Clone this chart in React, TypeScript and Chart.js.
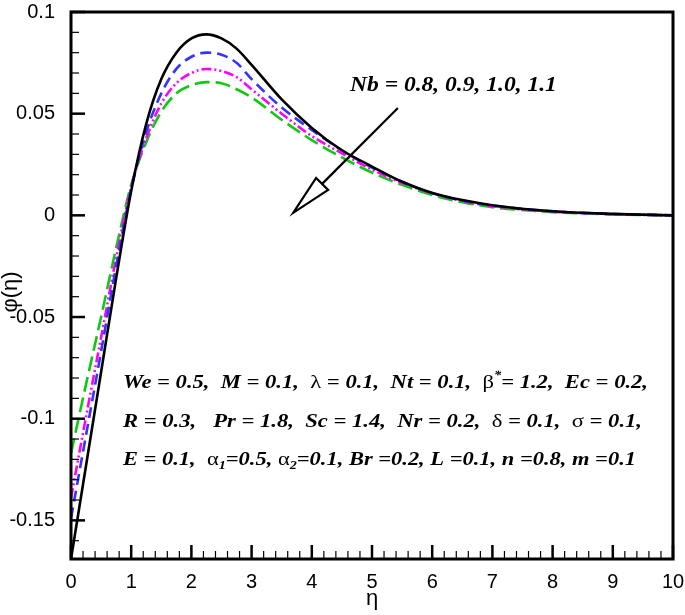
import React, { useEffect, useRef } from "react";
import { Chart, registerables } from "chart.js";

Chart.register(...registerables);

// ---- data ----
const eta = [0, 0.25, 0.5, 0.75, 1, 1.25, 1.5, 1.75, 2, 2.25, 2.5, 2.75, 3, 3.5, 4, 4.5, 5, 5.5, 6, 6.5, 7, 8, 9, 10];
const phiNb08 = [-0.169, -0.123, -0.077, -0.031, 0.012, 0.045, 0.067, 0.08, 0.087, 0.089, 0.087, 0.082, 0.074, 0.057, 0.043, 0.032, 0.024, 0.0165, 0.011, 0.0075, 0.005, 0.002, 0.0007, 0];
const phiNb09 = [-0.149, -0.108, -0.067, -0.025, 0.013, 0.041, 0.06, 0.072, 0.078, 0.08, 0.079, 0.075, 0.067, 0.053, 0.042, 0.032, 0.0235, 0.0165, 0.011, 0.0073, 0.0048, 0.002, 0.0007, 0];
const phiNb10 = [-0.139, -0.099, -0.06, -0.021, 0.014, 0.038, 0.055, 0.065, 0.07, 0.072, 0.071, 0.068, 0.062, 0.05, 0.039, 0.0305, 0.0225, 0.016, 0.0108, 0.007, 0.0045, 0.0018, 0.0006, 0];
const phiNb11 = [-0.117, -0.083, -0.05, -0.016, 0.015, 0.036, 0.051, 0.06, 0.064, 0.0655, 0.065, 0.062, 0.058, 0.047, 0.037, 0.0285, 0.021, 0.015, 0.01, 0.0065, 0.004, 0.0016, 0.0005, 0];
const seriesLabels = ["Nb = 0.8", "Nb = 0.9", "Nb = 1.0", "Nb = 1.1"];
const xTickValues = [0, 1, 2, 3, 4, 5, 6, 7, 8, 9, 10];
const yTickValues = [-0.15, -0.1, -0.05, 0, 0.05, 0.1];
const xRange = [0, 10];
const yRange = [-0.169, 0.1];

const SANS = '"Liberation Sans", Arial, Helvetica, sans-serif';
const SERIF = '"Liberation Serif", "Times New Roman", serif';

type Run = { t: string; s?: "bi" | "g" | "sub" | "sup" };

const paramLines: { runs: Run[]; eta: number; phi: number; endEta: number }[] = [
  {
    eta: 0.864, phi: -0.0824, endEta: 9.585,
    runs: [
      { t: "We = 0.5,  M = 0.1,  " }, { t: "λ", s: "g" }, { t: " = 0.1,  Nt = 0.1,  " },
      { t: "β", s: "g" }, { t: "*", s: "sup" }, { t: "= 1.2,  Ec = 0.2," },
    ],
  },
  {
    eta: 0.864, phi: -0.1016, endEta: 9.485,
    runs: [
      { t: "R = 0.3,   Pr = 1.8,  Sc = 1.4,  Nr = 0.2,  " }, { t: "δ", s: "g" }, { t: " = 0.1,  " },
      { t: "σ", s: "g" }, { t: " = 0.1," },
    ],
  },
  {
    eta: 0.864, phi: -0.1203, endEta: 9.385,
    runs: [
      { t: "E = 0.1,  " }, { t: "α", s: "g" }, { t: "1", s: "sub" }, { t: "=0.5, " },
      { t: "α", s: "g" }, { t: "2", s: "sub" }, { t: "=0.1, Br =0.2, L =0.1, n =0.8, m =0.1" },
    ],
  },
];

function fontFor(s: Run["s"], size: number) {
  if (s === "g") return `${size}px ${SERIF}`;
  if (s === "sub" || s === "sup") return `italic bold ${Math.round(size * 0.62)}px ${SERIF}`;
  return `italic bold ${size}px ${SERIF}`;
}

function drawRuns(ctx: CanvasRenderingContext2D, runs: Run[], x: number, y: number, size: number, width?: number) {
  ctx.save();
  ctx.textBaseline = "middle";
  ctx.textAlign = "left";
  ctx.fillStyle = "#000";
  let total = 0;
  const ws = runs.map((r) => {
    ctx.font = fontFor(r.s, size);
    const w = ctx.measureText(r.t).width;
    total += w;
    return w;
  });
  const sx = width ? width / total : 1;
  ctx.translate(x, y);
  ctx.scale(sx, 1);
  let cx = 0;
  runs.forEach((r, i) => {
    ctx.font = fontFor(r.s, size);
    let dy = 0;
    if (r.s === "sub") dy = size * 0.3;
    if (r.s === "sup") dy = -size * 0.35;
    ctx.fillText(r.t, cx, dy);
    cx += ws[i];
  });
  ctx.restore();
}

const decorPlugin = {
  id: "decor",
  afterDraw(chart: any) {
    const { ctx, chartArea: a, scales } = chart;
    const x = scales.x;
    const y = scales.y;
    ctx.save();
    ctx.strokeStyle = "#000";
    ctx.lineCap = "butt";
    // minor ticks
    ctx.lineWidth = 1.2;
    for (let i = 1; i < 50; i++) {
      if (i % 5 === 0) continue;
      const px = x.getPixelForValue(i * 0.2);
      ctx.beginPath();
      ctx.moveTo(px, a.bottom);
      ctx.lineTo(px, a.bottom - 8);
      ctx.stroke();
    }
    for (let k = -16; k <= 9; k++) {
      if (k % 5 === 0) continue;
      const py = y.getPixelForValue(k * 0.01);
      ctx.beginPath();
      ctx.moveTo(a.left, py);
      ctx.lineTo(a.left + 8, py);
      ctx.stroke();
    }
    // major ticks
    ctx.lineWidth = 2.5;
    xTickValues.forEach((v) => {
      const px = x.getPixelForValue(v);
      ctx.beginPath();
      ctx.moveTo(px, a.bottom);
      ctx.lineTo(px, a.bottom - 14);
      ctx.stroke();
    });
    yTickValues.forEach((v) => {
      const py = y.getPixelForValue(v);
      ctx.beginPath();
      ctx.moveTo(a.left, py);
      ctx.lineTo(a.left + 14, py);
      ctx.stroke();
    });
    // frame
    ctx.lineWidth = 3;
    ctx.strokeRect(a.left, a.top, a.right - a.left, a.bottom - a.top);

    // axis titles
    ctx.fillStyle = "#000";
    ctx.font = `22px ${SANS}`;
    ctx.textAlign = "center";
    ctx.textBaseline = "middle";
    ctx.fillText("η", (a.left + a.right) / 2, 599);
    ctx.save();
    ctx.translate(11, 292);
    ctx.rotate(-Math.PI / 2);
    ctx.fillText("φ(η)", 0, 0);
    ctx.restore();

    // Nb annotation
    drawRuns(ctx, [{ t: "Nb = 0.8, 0.9, 1.0, 1.1" }], x.getPixelForValue(4.635), y.getPixelForValue(0.064), 21,
      x.getPixelForValue(8.07) - x.getPixelForValue(4.635));

    // arrow
    const sx = x.getPixelForValue(5.43), sy = y.getPixelForValue(0.0528);
    const tx = x.getPixelForValue(3.69), ty = y.getPixelForValue(0.0012);
    const ang = Math.atan2(ty - sy, tx - sx);
    const headLen = 41, headHalf = 8.5;
    const bx = tx - headLen * Math.cos(ang), by = ty - headLen * Math.sin(ang);
    ctx.lineWidth = 2.2;
    ctx.beginPath();
    ctx.moveTo(sx, sy);
    ctx.lineTo(bx, by);
    ctx.stroke();
    ctx.beginPath();
    ctx.moveTo(tx, ty);
    ctx.lineTo(bx + headHalf * Math.sin(ang), by - headHalf * Math.cos(ang));
    ctx.lineTo(bx - headHalf * Math.sin(ang), by + headHalf * Math.cos(ang));
    ctx.closePath();
    ctx.fillStyle = "#fff";
    ctx.fill();
    ctx.stroke();

    // parameter block
    paramLines.forEach((ln) => {
      const lx = x.getPixelForValue(ln.eta);
      drawRuns(ctx, ln.runs, lx, y.getPixelForValue(ln.phi), 19, x.getPixelForValue(ln.endEta) - lx);
    });
    ctx.restore();
  },
};

export default function App() {
  const ref = useRef<HTMLCanvasElement | null>(null);
  useEffect(() => {
    if (!ref.current) return;
    const mk = (arr: number[]) => eta.map((e, i) => ({ x: e, y: arr[i] }));
    const chart = new Chart(ref.current, {
      type: "line",
      data: {
        datasets: [
          { label: seriesLabels[0], data: mk(phiNb08), borderColor: "#000000", borderWidth: 2.6, borderDash: [] },
          { label: seriesLabels[1], data: mk(phiNb09), borderColor: "#3434ff", borderWidth: 2.6, borderDash: [11, 6] },
          { label: seriesLabels[2], data: mk(phiNb10), borderColor: "#ff00ff", borderWidth: 2.6, borderDash: [10, 3, 2, 3, 2, 3] },
          { label: seriesLabels[3], data: mk(phiNb11), borderColor: "#11c811", borderWidth: 2.6, borderDash: [15, 6] },
        ].map((d) => ({ ...d, pointRadius: 0, fill: false, cubicInterpolationMode: "monotone" as const })),
      },
      options: {
        animation: false,
        responsive: false,
        maintainAspectRatio: false,
        layout: { padding: { top: 12, right: 12, left: 0, bottom: 0 } },
        plugins: { legend: { display: false }, tooltip: { enabled: false } },
        scales: {
          x: {
            type: "linear",
            min: xRange[0],
            max: xRange[1],
            afterBuildTicks: (s: any) => { s.ticks = xTickValues.map((v) => ({ value: v })); },
            afterFit: (s: any) => { s.height = 56; s.paddingLeft = 0; s.paddingRight = 0; },
            grid: { display: false },
            border: { display: false },
            ticks: { color: "#000", font: { size: 20, family: SANS }, padding: 3, maxRotation: 0, autoSkip: false,
              callback: (v: any) => String(v) },
          },
          y: {
            type: "linear",
            min: yRange[0],
            max: yRange[1],
            afterBuildTicks: (s: any) => { s.ticks = yTickValues.map((v) => ({ value: v })); },
            afterFit: (s: any) => { s.width = 71; s.paddingTop = 0; s.paddingBottom = 0; },
            grid: { display: false },
            border: { display: false },
            ticks: { color: "#000", font: { size: 20, family: SANS }, padding: 8, autoSkip: false,
              callback: (v: any) => String(Math.round(Number(v) * 1000) / 1000) },
          },
        },
      },
      plugins: [decorPlugin],
    });
    return () => chart.destroy();
  }, []);
  return (
    <div style={{ position: "absolute", left: 0, top: 0, width: 685, height: 615, background: "#fff" }}>
      <canvas ref={ref} width={685} height={615} />
    </div>
  );
}
